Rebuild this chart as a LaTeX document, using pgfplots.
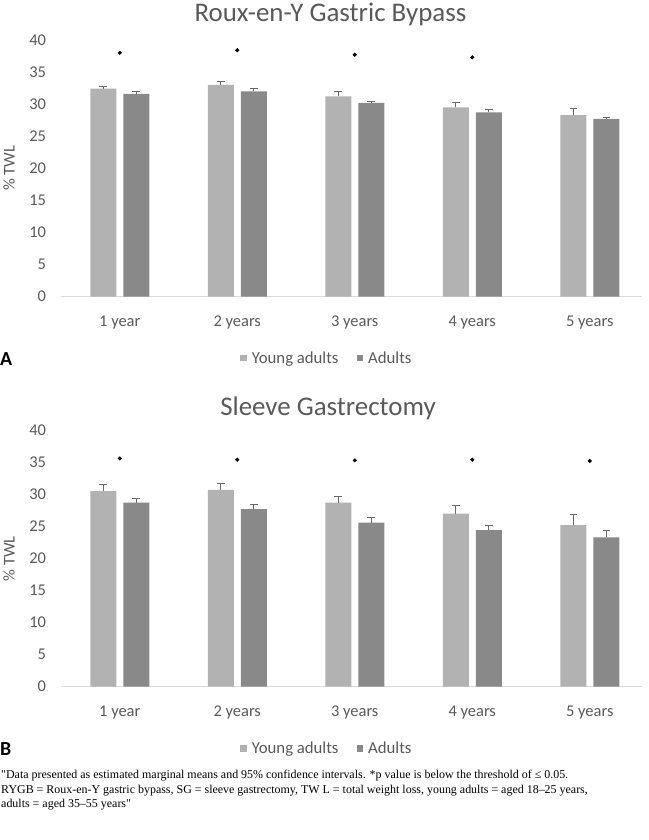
\documentclass[border=0pt]{standalone}
\usepackage{pgfplots}
\pgfplotsset{compat=1.18}
\usepackage{fontspec}
\setmainfont{Carlito}
\newfontfamily\capfont{Liberation Serif}

\definecolor{young}{RGB}{178,178,178}
\definecolor{adult}{RGB}{137,137,137}
\definecolor{txt}{RGB}{89,89,89}
\definecolor{errc}{RGB}{105,105,105}
\definecolor{baseln}{RGB}{217,217,217}

\pgfplotsset{
  frame/.style={
    scale only axis, width=580.5bp, height=256.5bp,
    anchor=south west, clip=false,
    xmin=-0.5, xmax=4.44, ymin=0, ymax=40,
  },
  twl/.style={
    frame,
    ybar=7bp, bar width=26bp,
    xtick={0,1,2,3,4},
    xticklabels={1 year, 2 years, 3 years, 4 years, 5 years},
    ytick={0,5,...,40},
    axis lines*=left,
    y axis line style={draw=none},
    x axis line style={-, draw=baseln, line width=1.3bp},
    tick style={draw=none},
    tick label style={font=\fontsize{16.5}{19}\selectfont, text=txt},
    /pgf/number format/assume math mode=true,
    yticklabel style={xshift=-11.5bp},
    xticklabel style={yshift=-11.5bp},
    legend style={at={(0.458,-0.24)}, anchor=center, draw=none,
      legend columns=2, font=\fontsize{16.8}{19}\selectfont, text=txt,
      /tikz/every odd column/.append style={column sep=3bp},
      /tikz/every even column/.append style={column sep=16bp}},
    legend image code/.code={\fill[##1] (0bp,-3.4bp) rectangle (6.7bp,3.4bp);},
  },
  eb/.style={error bars/.cd, y dir=plus, y explicit, error mark=|,
    error bar style={errc, line width=0.9bp},
    error mark options={errc, line width=0.9bp, mark size=3.8bp}},
  star/.style={only marks, mark=*, mark size=1.8bp, black},
}

\begin{document}
\begin{tikzpicture}
\useasboundingbox (0,0) rectangle (649bp,-840bp);

% A: Roux-en-Y gastric bypass
\node[font=\fontsize{27}{31}\selectfont, text=txt, anchor=base, inner sep=0pt] at (330.5bp,-21bp) {Roux-en-Y Gastric Bypass};
\node[font=\fontsize{16.5}{19}\selectfont, text=txt, rotate=90] at (9bp,-168bp) {\% TWL};
\begin{axis}[twl, at={(61bp,-296.5bp)}]
  \addplot[fill=young, draw=none, eb] coordinates {(0,32.4) += (0,0.4) (1,33.0) += (0,0.6) (2,31.2) += (0,0.8) (3,29.5) += (0,0.8) (4,28.3) += (0,1.0)};
  \addplot[fill=adult, draw=none, eb] coordinates {(0,31.6) += (0,0.4) (1,32.0) += (0,0.4) (2,30.2) += (0,0.15) (3,28.7) += (0,0.4) (4,27.7) += (0,0.3)};
  \legend{Young adults, Adults}
\end{axis}
\begin{axis}[frame, hide axis, at={(61bp,-296.5bp)}]
  \addplot[star] coordinates {(0,38.0) (1,38.4) (2,37.7) (3,37.3)};
\end{axis}
\node[font=\fontsize{20}{24}\selectfont\bfseries, anchor=west, inner sep=0pt] at (0bp,-359bp) {A};

% B: sleeve gastrectomy
\node[font=\fontsize{27}{31}\selectfont, text=txt, anchor=base, inner sep=0pt] at (328bp,-415bp) {Sleeve Gastrectomy};
\node[font=\fontsize{16.5}{19}\selectfont, text=txt, rotate=90] at (9bp,-558.7bp) {\% TWL};
\begin{axis}[twl, at={(61bp,-686.7bp)}]
  \addplot[fill=young, draw=none, eb] coordinates {(0,30.5) += (0,1.0) (1,30.7) += (0,1.0) (2,28.7) += (0,0.9) (3,27.0) += (0,1.2) (4,25.2) += (0,1.6)};
  \addplot[fill=adult, draw=none, eb] coordinates {(0,28.7) += (0,0.7) (1,27.7) += (0,0.7) (2,25.6) += (0,0.8) (3,24.4) += (0,0.8) (4,23.3) += (0,1.0)};
  \legend{Young adults, Adults}
\end{axis}
\begin{axis}[frame, hide axis, at={(61bp,-686.7bp)}]
  \addplot[star] coordinates {(0,35.6) (1,35.4) (2,35.3) (3,35.4) (4,35.2)};
\end{axis}
\node[font=\fontsize{20}{24}\selectfont\bfseries, anchor=west, inner sep=0pt] at (0bp,-749bp) {B};

% caption
\begin{scope}[every node/.style={anchor=base west, inner sep=0pt, font=\capfont\fontsize{12}{14}\selectfont}]
\node at (1bp,-778bp) {"Data presented as estimated marginal means and 95\% confidence intervals. *p value is below the threshold of ≤ 0.05.};
\node at (1bp,-793bp) {RYGB = Roux-en-Y gastric bypass, SG = sleeve gastrectomy, TW L = total weight loss, young adults = aged 18–25 years,};
\node at (1bp,-807bp) {adults = aged 35–55 years"};
\end{scope}
\end{tikzpicture}
\end{document}
